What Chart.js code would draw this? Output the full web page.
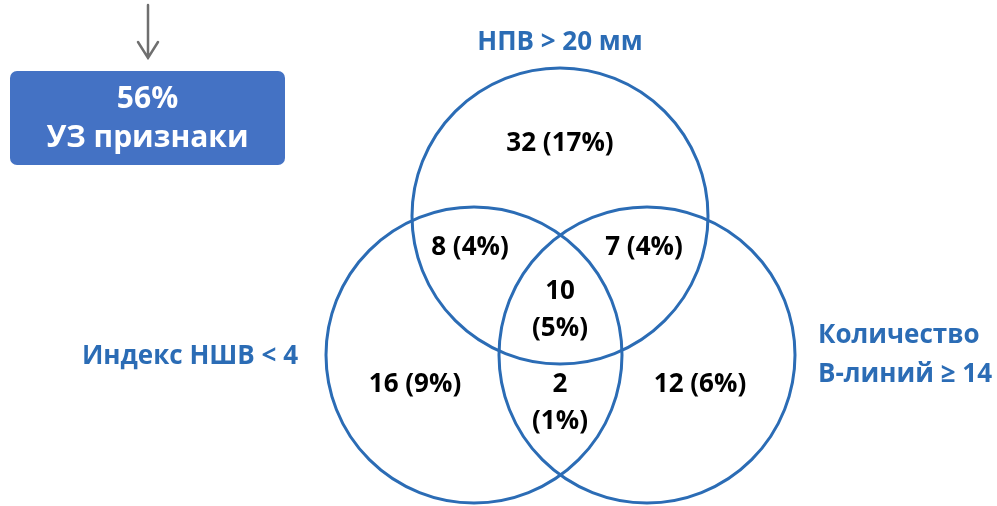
<!DOCTYPE html>
<html>
<head>
<meta charset="utf-8">
<script src="https://cdn.jsdelivr.net/npm/chart.js@4/dist/chart.umd.min.js"></script>
<style>
  html, body { margin: 0; padding: 0; background: #ffffff; }
  #wrap { width: 997px; height: 506px; }
</style>
</head>
<body>
<div id="wrap"><canvas id="venn" width="997" height="506"></canvas></div>
<script>
// Set names (one circle each)
const setNames = ['НПВ > 20 мм', 'Индекс НШВ < 4', 'Количество\nВ-линий ≥ 14'];
// Patients in each Venn region and their share
const regionNames = ['Только НПВ', 'НПВ + НШВ', 'НПВ + В-линии', 'Все три', 'Только НШВ', 'НШВ + В-линии', 'Только В-линии'];
const regionCounts = [32, 8, 7, 10, 16, 2, 12];
const regionPercents = [17, 4, 4, 5, 9, 1, 6];
// Summary box
const summaryPercent = 56;
const summaryText = 'УЗ признаки';

// Layout in canvas units (x right, y down)
const circleLayout = [
  { x: 560, y: 216, r: 148 },
  { x: 474, y: 355, r: 148 },
  { x: 647, y: 355, r: 148 }
];
const regionLayout = [
  { x: 560, y: 144, split: false },
  { x: 470, y: 248, split: false },
  { x: 644, y: 248, split: false },
  { x: 560, y: 292, split: true },
  { x: 415, y: 385, split: false },
  { x: 560, y: 385, split: true },
  { x: 700, y: 385, split: false }
];
const setLabelLayout = [
  { x: 560, y: 43, align: 'center' },
  { x: 190, y: 357, align: 'center' },
  { x: 818, y: 336, align: 'left' }
];

const BLUE = '#2b6cb5';
const FONT = '"Open Sans", "Noto Sans", sans-serif';

const vennText = {
  id: 'vennText',
  afterDatasetsDraw(chart) {
    const { ctx, scales: { x, y } } = chart;
    ctx.save();
    ctx.textBaseline = 'middle';

    // Region counts
    ctx.fillStyle = '#000000';
    ctx.font = 'bold 26px ' + FONT;
    ctx.textAlign = 'center';
    regionCounts.forEach((n, i) => {
      const p = regionLayout[i];
      const px = x.getPixelForValue(p.x), py = y.getPixelForValue(p.y);
      if (p.split) {
        ctx.fillText(String(n), px, py);
        ctx.fillText('(' + regionPercents[i] + '%)', px, py + 37);
      } else {
        ctx.fillText(n + ' (' + regionPercents[i] + '%)', px, py);
      }
    });

    // Set labels
    ctx.fillStyle = BLUE;
    ctx.font = 'bold 26px ' + FONT;
    setNames.forEach((name, i) => {
      const p = setLabelLayout[i];
      ctx.textAlign = p.align;
      const px = x.getPixelForValue(p.x), py = y.getPixelForValue(p.y);
      name.split('\n').forEach((line, k) => ctx.fillText(line, px, py + k * 39));
    });

    // Arrow pointing down to the summary box
    ctx.strokeStyle = '#6f6f6f';
    ctx.lineWidth = 2.5;
    ctx.lineCap = 'round';
    const ax = x.getPixelForValue(148);
    ctx.beginPath();
    ctx.moveTo(ax, y.getPixelForValue(5));
    ctx.lineTo(ax, y.getPixelForValue(58));
    ctx.moveTo(ax - 10, y.getPixelForValue(42));
    ctx.lineTo(ax, y.getPixelForValue(58));
    ctx.lineTo(ax + 10, y.getPixelForValue(42));
    ctx.stroke();

    // Summary box
    const bx0 = x.getPixelForValue(10), bx1 = x.getPixelForValue(285);
    const by0 = y.getPixelForValue(71), by1 = y.getPixelForValue(165);
    ctx.fillStyle = '#4472c4';
    ctx.beginPath();
    ctx.roundRect(bx0, by0, bx1 - bx0, by1 - by0, 7);
    ctx.fill();
    ctx.fillStyle = '#ffffff';
    ctx.textAlign = 'center';
    ctx.font = 'bold 30px ' + FONT;
    const cx = (bx0 + bx1) / 2;
    ctx.fillText(summaryPercent + '%', cx, y.getPixelForValue(99));
    ctx.fillText(summaryText, cx, y.getPixelForValue(138));
    ctx.restore();
  }
};

new Chart(document.getElementById('venn'), {
  type: 'bubble',
  data: {
    datasets: [{
      label: 'Множества',
      data: circleLayout.map(c => ({ x: c.x, y: c.y, r: c.r })),
      backgroundColor: 'rgba(0,0,0,0)',
      borderColor: BLUE,
      borderWidth: 3,
      hoverBorderWidth: 3,
      clip: false
    }]
  },
  options: {
    responsive: false,
    animation: false,
    events: [],
    layout: { padding: 0, autoPadding: false },
    plugins: { legend: { display: false }, tooltip: { enabled: false } },
    scales: {
      x: { type: 'linear', min: 0, max: 997, display: false },
      y: { type: 'linear', min: 0, max: 506, reverse: true, display: false }
    }
  },
  plugins: [vennText]
});
</script>
</body>
</html>
